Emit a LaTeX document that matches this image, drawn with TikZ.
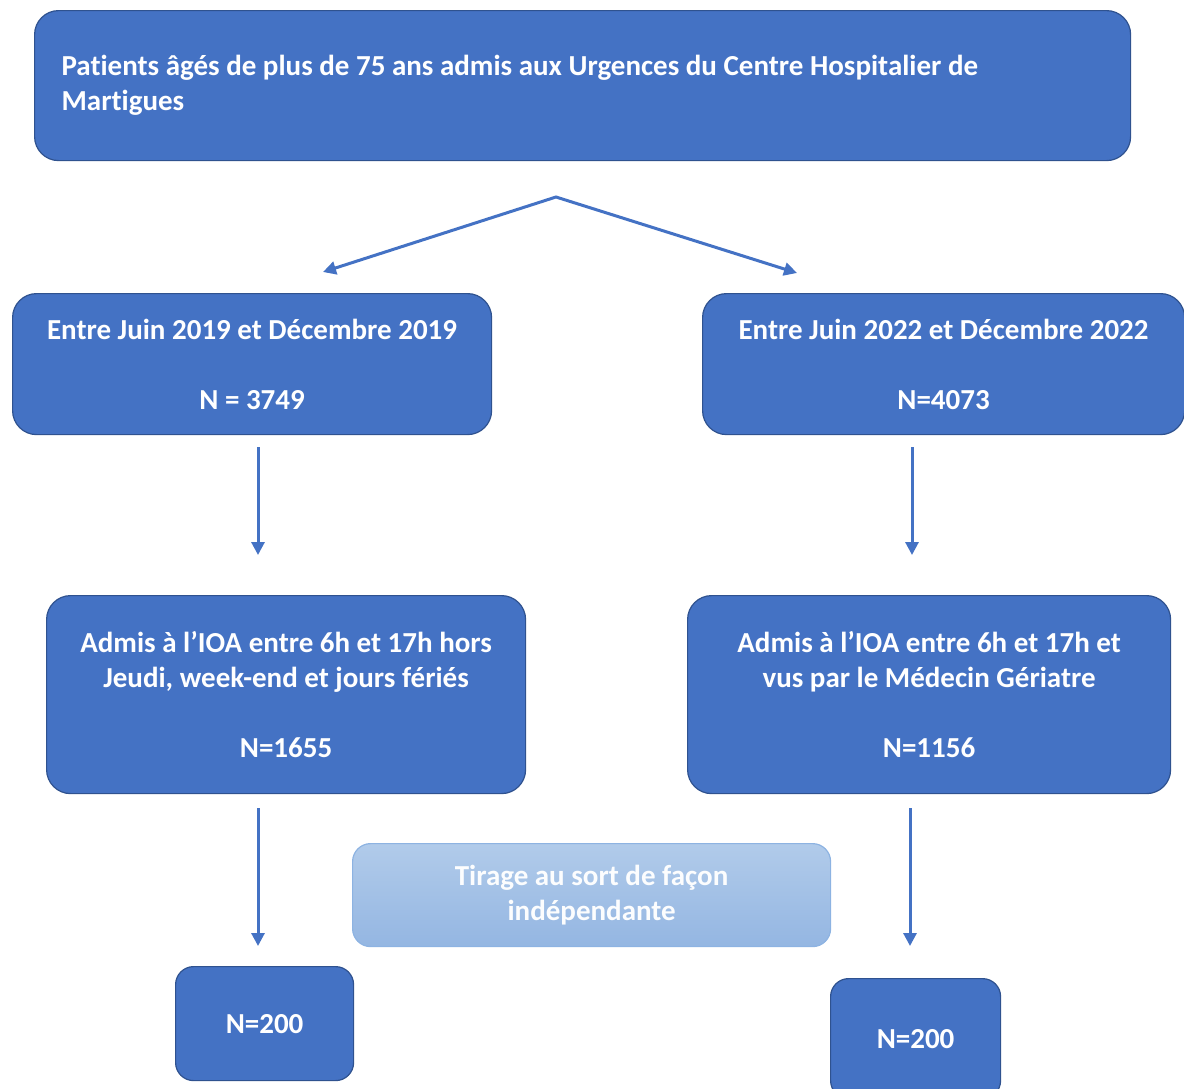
\documentclass[tikz,border=0pt]{standalone}
\usepackage{fontspec}
\setmainfont[Ligatures=NoCommon]{Carlito}
\usetikzlibrary{arrows.meta}
\definecolor{boxblue}{HTML}{4472C4}
\definecolor{boxedge}{HTML}{2F528F}
\definecolor{lighttop}{HTML}{B1CBEA}
\definecolor{lightbot}{HTML}{94B6E2}
\definecolor{lightedge}{HTML}{8DB3E2}
\begin{document}
\begin{tikzpicture}[x=1pt,y=-1pt,
  >={Triangle[length=13pt,width=13pt]},
  box/.style={draw=boxedge, line width=1.2pt, fill=boxblue, rounded corners=24pt,
    text=white, font=\fontsize{29}{35}\selectfont\bfseries, inner sep=0pt,
    align=center, anchor=north west},
  lightbox/.style={draw=lightedge, line width=1.2pt, top color=lighttop, bottom color=lightbot,
    rounded corners=18pt, text=white!96!lighttop, font=\fontsize{29}{35}\selectfont\bfseries,
    inner sep=0pt, align=center, anchor=north west},
  conn/.style={draw=boxblue, line width=3pt, line join=miter}]
\useasboundingbox (0,0) rectangle (1184,1088);
% boxes
\node[box, minimum width=1096pt, minimum height=150pt, text width=1042pt, align=flush left] (top) at (34,10)
  {Patients âgés de plus de 75 ans admis aux Urgences du Centre Hospitalier de\\Martigues};
\node[box, minimum width=479pt, minimum height=141pt] (p1) at (12,293)
  {Entre Juin 2019 et Décembre 2019\\[35pt]N = 3749};
\node[box, minimum width=482pt, minimum height=141pt] (p2) at (702,293)
  {Entre Juin 2022 et Décembre 2022\\[35pt]N=4073};
\node[box, minimum width=479pt, minimum height=198pt] (a1) at (46,595)
  {Admis à l’IOA entre 6h et 17h hors\\Jeudi, week-end et jours fériés\\[35pt]N=1655};
\node[box, minimum width=483pt, minimum height=198pt] (a2) at (687,595)
  {Admis à l’IOA entre 6h et 17h et\\vus par le Médecin Gériatre\\[35pt]N=1156};
\node[lightbox, minimum width=478pt, minimum height=103pt] (tir) at (352,843)
  {Tirage au sort de façon\\indépendante};
\node[box, rounded corners=18pt, minimum width=178pt, minimum height=114pt] (s1) at (175,966) {N=200};
\node[box, rounded corners=18pt, minimum width=170pt, minimum height=120pt] (s2) at (830,978) {N=200};
% connectors
\coordinate (split) at (556,197);
\coordinate (splitL) at (323,272);
\coordinate (splitR) at (797,273);
\draw[conn, <->] (splitL) -- (split) -- (splitR);
\coordinate (v1a) at (258,447); \coordinate (v1b) at (258,555);
\coordinate (v2a) at (912,447); \coordinate (v2b) at (912,555);
\coordinate (v3a) at (258,808); \coordinate (v3b) at (258,946);
\coordinate (v4a) at (910,808); \coordinate (v4b) at (910,946);
\draw[conn, ->] (v1a) -- (v1b);
\draw[conn, ->] (v2a) -- (v2b);
\draw[conn, ->] (v3a) -- (v3b);
\draw[conn, ->] (v4a) -- (v4b);
\end{tikzpicture}
\end{document}
